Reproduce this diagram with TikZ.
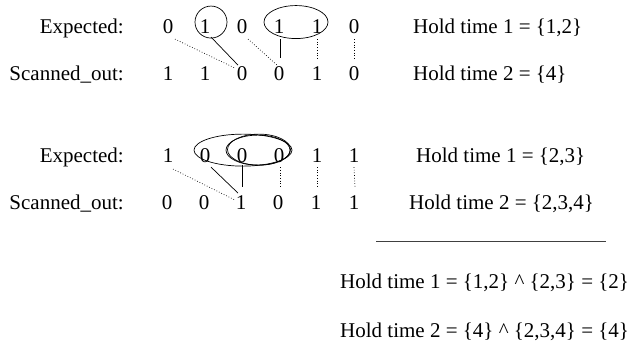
\documentclass[tikz,border=0pt]{standalone}
\usepackage{fontspec}
\setmainfont{Liberation Serif}
\usetikzlibrary{calc}
\begin{document}
\begin{tikzpicture}[x=1pt,y=-1pt,
  every node/.style={font=\fontsize{21}{25}\selectfont,inner sep=0pt},
  dig/.style={anchor=base},
  lab/.style={anchor=base east},
  hold/.style={anchor=base west},
  solidc/.style={line width=0.7pt},
  dotc/.style={line width=0.7pt,dotted},
  ring/.style={line width=0.7pt}]
\useasboundingbox (0,0) rectangle (631,348);
% row labels
\node[lab] (l1) at (124,33) {Expected:};
\node[lab] (l2) at (124,80) {Scanned\_out:};
\node[lab] (l3) at (124,162) {Expected:};
\node[lab] (l4) at (124,209) {Scanned\_out:};
% block 1
\foreach \i/\x/\v in {1/168/0,2/205/1,3/242/0,4/279/1,5/317/1,6/354/0}
  \node[dig] (e\i) at (\x,33) {\v};
\foreach \i/\x/\v in {1/168/1,2/205/1,3/242/0,4/279/0,5/317/1,6/354/0}
  \node[dig] (s\i) at (\x,80) {\v};
\draw[ring] ($(e2)+(6,-4)$) circle (16);
\draw[ring] ($(e4)+(17,-4)$) ellipse (32 and 16.5);
\draw[dotc] ($(e1)+(7,13)$) -- ($(s3)+(-7,-5)$);
\draw[solidc] ($(e2)+(6,11)$) -- ($(s3)+(-4,-8)$);
\draw[dotc] ($(e3)+(6,13)$) -- ($(s4)+(-2,-8)$);
\draw[solidc] ($(e4)+(1,13)$) -- ($(s4)+(1,-15)$);
\draw[dotc] ($(e5)+(0,13)$) -- ($(s5)+(0,-15)$);
\draw[dotc] ($(e6)+(0,13)$) -- ($(s6)+(0,-15)$);
% block 2
\foreach \i/\x/\v in {1/168/1,2/205/0,3/242/0,4/279/0,5/317/1,6/354/1}
  \node[dig] (f\i) at (\x,162) {\v};
\foreach \i/\x/\v in {1/167/0,2/204/0,3/241/1,4/278/0,5/316/1,6/354/1}
  \node[dig] (t\i) at (\x,209) {\v};
\draw[ring] ($(f3)+(1,-5)$) ellipse (49 and 16);
\draw[ring] ($(f3)+(16,-5)$) ellipse (32 and 15);
\draw[ring] ($(f3)+(17,-5.5)$) ellipse (31.5 and 15.5);
\draw[dotc] ($(f1)+(5,14)$) -- ($(t3)+(-6,-2)$);
\draw[solidc] ($(f2)+(6,12)$) -- ($(t3)+(-3,-9)$);
\draw[solidc] ($(f3)+(0,10)$) -- ($(t3)+(1,-15)$);
\draw[dotc] ($(f4)+(1,12)$) -- ($(t4)+(2,-15)$);
\draw[dotc] ($(f5)+(0,12)$) -- ($(t5)+(1,-15)$);
\draw[dotc] ($(f6)+(0,12)$) -- ($(t6)+(1,-15)$);
% hold times
\node[hold] (h1) at (413,33) {Hold time 1 = \{1,2\}};
\node[hold] (h2) at (413,80) {Hold time 2 = \{4\}};
\node[hold] (h3) at (416,162) {Hold time 1 = \{2,3\}};
\node[hold] (h4) at (409,209) {Hold time 2 = \{2,3,4\}};
\coordinate (la) at (376,241);
\coordinate (lb) at (606,241);
\draw[line width=0.8pt, black!75] (la) -- (lb);
\node[hold] (r1) at (340,288) {Hold time 1 = \{1,2\} \textasciicircum{} \{2,3\} = \{2\}};
\node[hold] (r2) at (340,337) {Hold time 2 = \{4\} \textasciicircum{} \{2,3,4\} = \{4\}};
\end{tikzpicture}
\end{document}
